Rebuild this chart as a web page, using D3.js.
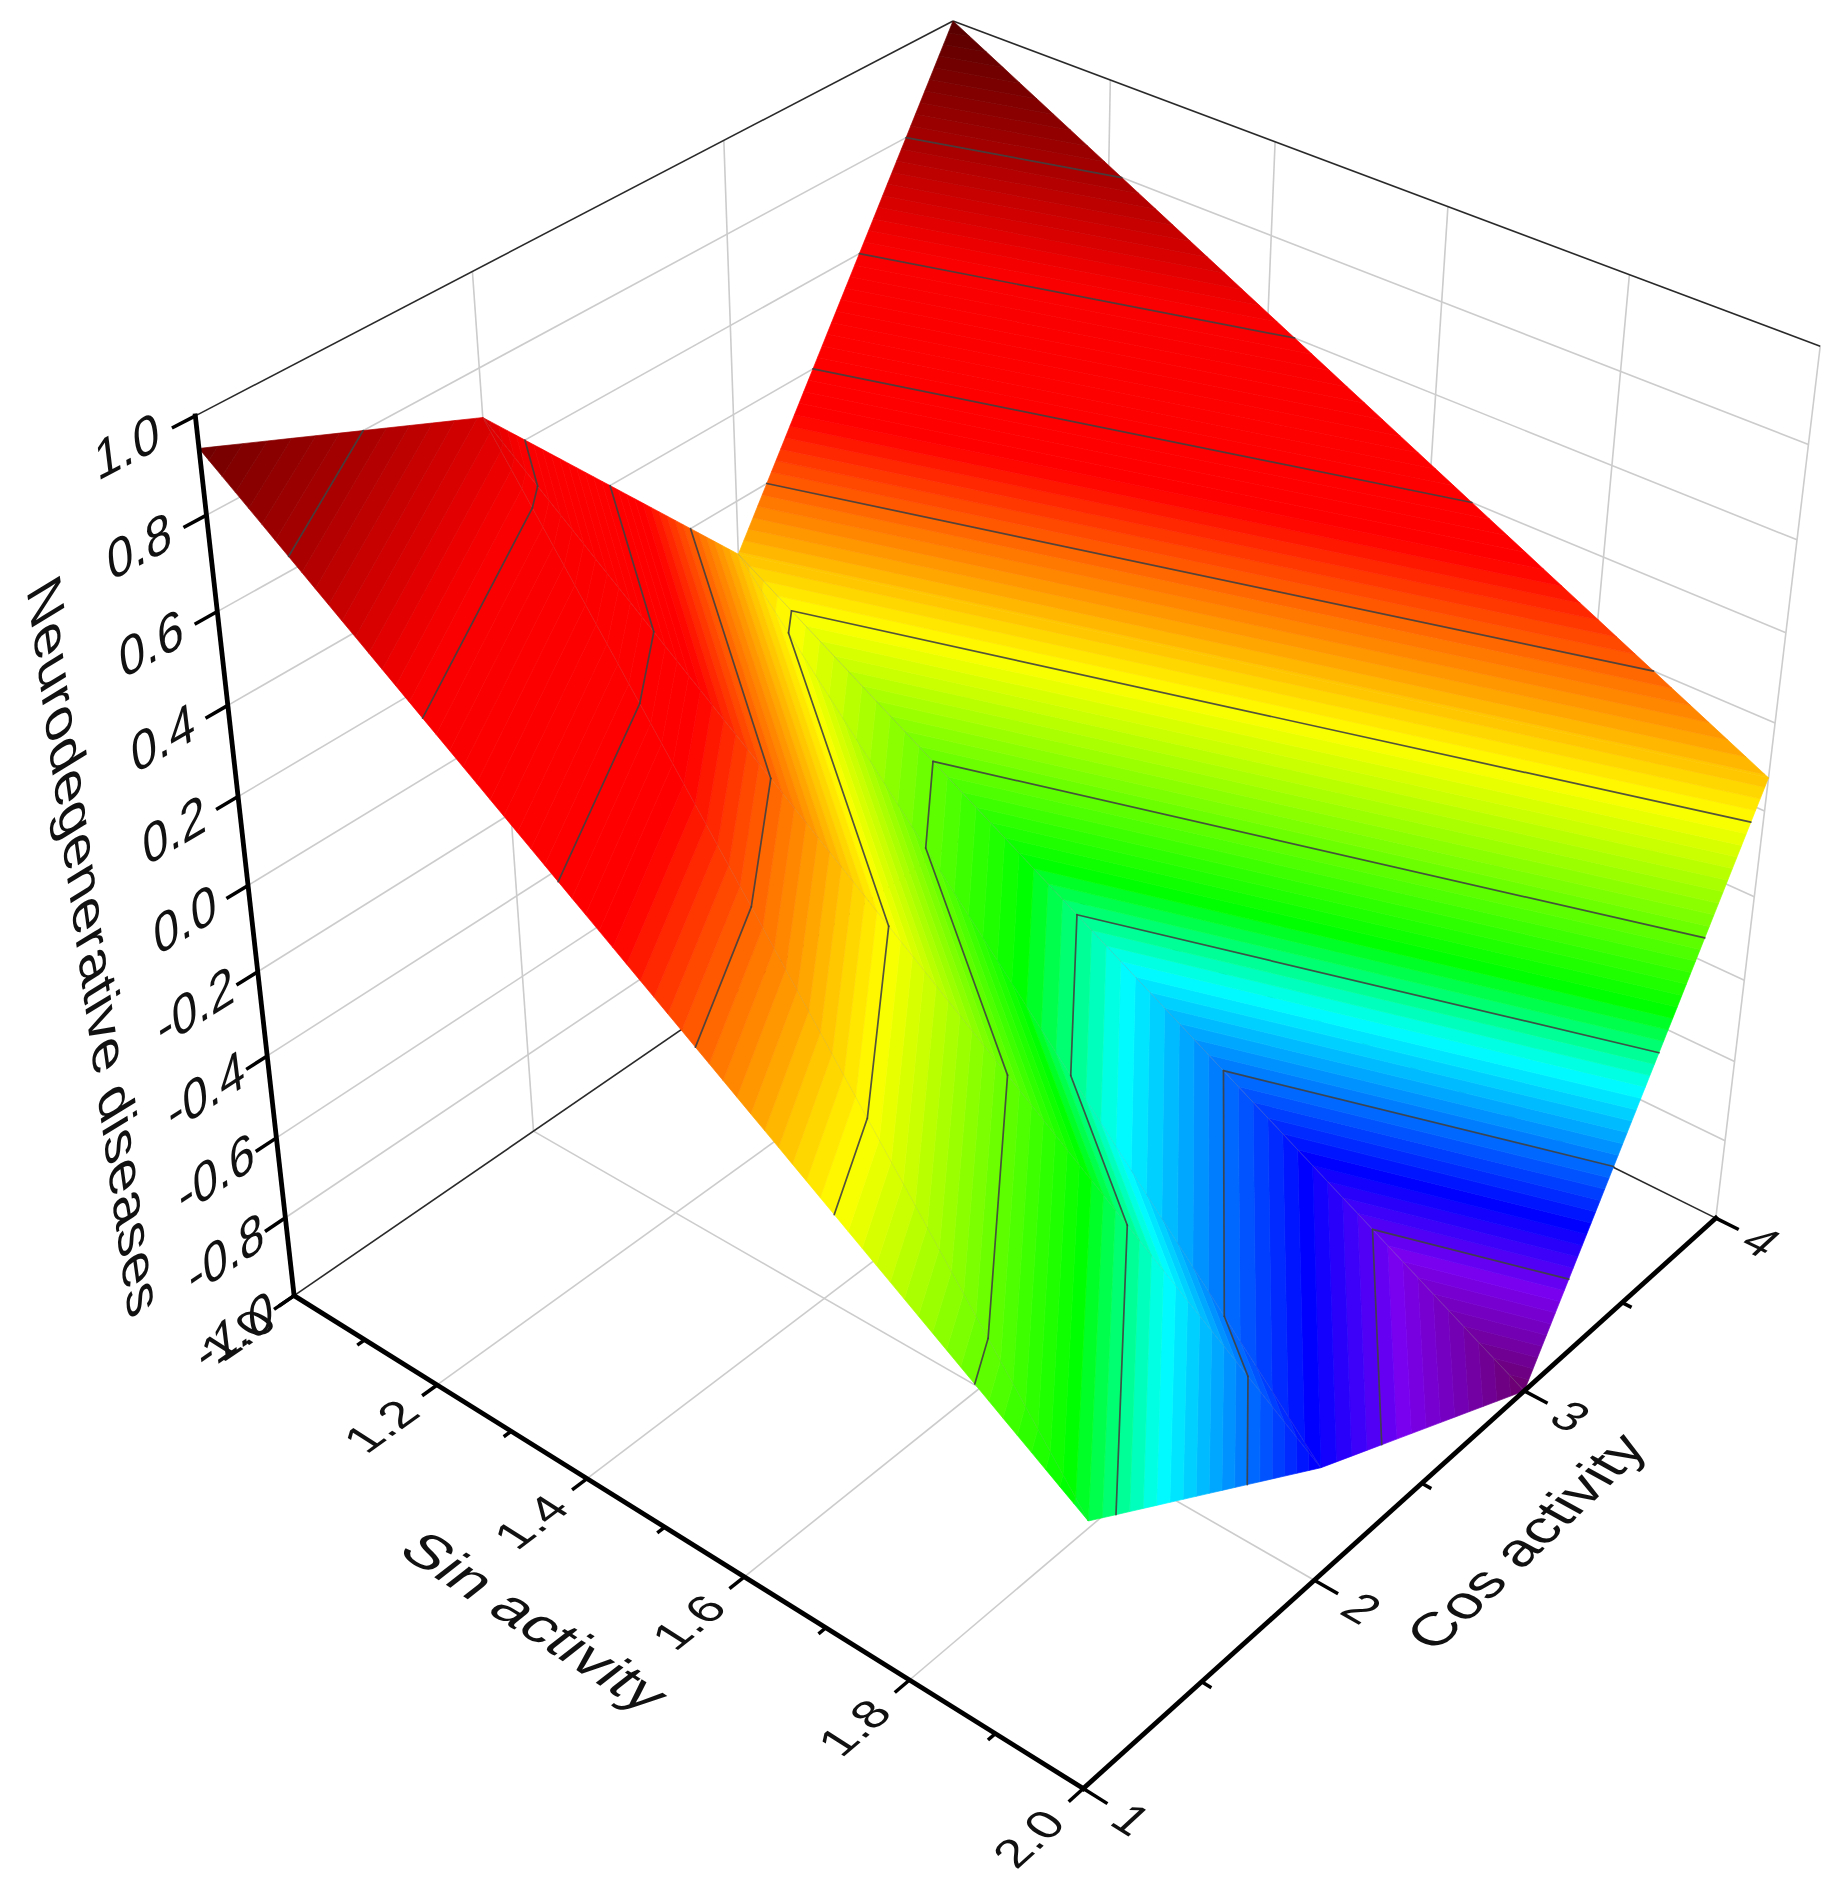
<!DOCTYPE html>
<html><head><meta charset="utf-8">
<script src="https://d3js.org/d3.v7.min.js"></script>
<style>html,body{margin:0;padding:0;background:#fff}svg{display:block;filter:blur(0.6px)}text{font-family:"Liberation Sans",Arial,sans-serif;fill:#111}</style>
</head><body><svg id="chart" width="1836" height="1890"></svg>
<script>
// ---- data ----
const sinValues = [1, 2];
const cosValues = [1, 2, 3, 4];
const zAtSin1 = [0.935, 0.695, 0.076, 1.0];
const zAtSin2 = [-0.36, -0.72, -1.0, 0.076];
const surfaceRows = [zAtSin1, zAtSin2];
const contourLevels = [-0.8, -0.6, -0.4, -0.2, 0, 0.2, 0.4, 0.6, 0.8];
const zTicks = [-1, -0.8, -0.6, -0.4, -0.2, 0, 0.2, 0.4, 0.6, 0.8, 1];
const sinTicks = [1, 1.2, 1.4, 1.6, 1.8, 2];
const sinMinorTicks = [1.1, 1.3, 1.5, 1.7, 1.9];
const cosTicks = [1, 2, 3, 4];
const cosMinorTicks = [1.5, 2.5, 3.5];
const colorDomain = [1, 0.8, 0.62, 0.32, 0, -0.33, -0.465, -0.71, -0.83, -1];
const colorRange = ["#560000", "#a60000", "#fa0000", "#ff0000", "#ffff00", "#00ff00", "#00ffff", "#0000ff", "#7a00f0", "#6c006c"];
const bandCount = 100;
const titles = {z: "Neurodegenerative diseases", sin: "Sin activity", cos: "Cos activity"};

// ---- camera: fitted from where known cube points fall on the page ----
const uScale = d3.scaleLinear([1, 2], [0, 1]);
const vScale = d3.scaleLinear([1, 4], [0, 1]);
const wScale = d3.scaleLinear([-1, 1], [0, 1]);
const cameraAnchors = [
  [1,1,-1,293,1296],[2,1,-1,1083,1788],[2,4,-1,1718,1220],[1,4,-1,952,840],
  [1,1,1,195,413],[1,4,1,955,20.5],[2,4,1,1818,346],
  [2,2,-1,1314,1578.5],[2,3,-1,1525,1391],
  [1.2,1,-1,434,1386],[1.4,1,-1,587,1479],[1.6,1,-1,744,1578],[1.8,1,-1,910,1679],
  [1,1,0.8,204,516],[1,1,0.6,216,612],[1,1,0.4,227,706],[1,1,0.2,237.5,797],
  [1,1,-0.2,259,973],[1,1,-0.4,269,1057],[1,1,-0.6,279,1137],[1,1,-0.8,288,1217],
  [1,2,-1,534,1130],[1,2,1,472.6,271],[1,3,1,726,142]
];
function fitCamera(rows) {
  const n = 11, M = d3.range(n).map(() => new Array(n + 1).fill(0));
  const add = (r, y) => { for (let i = 0; i < n; i++) { for (let j = 0; j < n; j++) M[i][j] += r[i] * r[j]; M[i][n] += r[i] * y; } };
  rows.forEach(([s, c, z, x, y]) => {
    const u = uScale(s), v = vScale(c), w = wScale(z), X = x / 1000, Y = y / 1000;
    add([u, v, w, 1, 0, 0, 0, 0, -X * u, -X * v, -X * w], X);
    add([0, 0, 0, 0, u, v, w, 1, -Y * u, -Y * v, -Y * w], Y);
  });
  for (let i = 0; i < n; i++) {
    let p = i; for (let k = i + 1; k < n; k++) if (Math.abs(M[k][i]) > Math.abs(M[p][i])) p = k;
    [M[i], M[p]] = [M[p], M[i]];
    for (let k = 0; k < n; k++) if (k !== i) { const f = M[k][i] / M[i][i]; for (let j = i; j <= n; j++) M[k][j] -= f * M[i][j]; }
  }
  return M.map((r, i) => r[n] / r[i]);
}
const cam = fitCamera(cameraAnchors);
function project(s, c, z) {
  const u = uScale(s), v = vScale(c), w = wScale(z);
  const d = cam[8] * u + cam[9] * v + cam[10] * w + 1;
  return [1000 * (cam[0] * u + cam[1] * v + cam[2] * w + cam[3]) / d,
          1000 * (cam[4] * u + cam[5] * v + cam[6] * w + cam[7]) / d];
}

const svg = d3.select("#chart");
const line = d3.line();
const gWalls = svg.append("g"), gSurface = svg.append("g"), gContours = svg.append("g"), gAxes = svg.append("g"), gText = svg.append("g");

function seg(g, a, b, stroke, width, cap) {
  g.append("path").attr("d", line([project(...a), project(...b)])).attr("stroke", stroke)
   .attr("stroke-width", width).attr("fill", "none").attr("stroke-linecap", cap || "butt");
}

// walls and floor grid
const gridColor = "#cccccc";
zTicks.slice(1, -1).forEach(z => {
  seg(gWalls, [1, 1, z], [1, 4, z], gridColor, 1.6);
  seg(gWalls, [1, 4, z], [2, 4, z], gridColor, 1.6);
});
[2, 3].forEach(c => {
  seg(gWalls, [1, c, -1], [1, c, 1], gridColor, 1.6);
  seg(gWalls, [1, c, -1], [2, c, -1], gridColor, 1.6);
});
[1.2, 1.4, 1.6, 1.8].forEach(s => {
  seg(gWalls, [s, 4, -1], [s, 4, 1], gridColor, 1.6);
  seg(gWalls, [s, 1, -1], [s, 4, -1], gridColor, 1.6);
});
seg(gWalls, [2, 4, -1], [2, 4, 1], gridColor, 1.6);
seg(gWalls, [1, 4, -1], [1, 4, 1], gridColor, 1.6);
const edgeColor = "#2a2a2a";
seg(gWalls, [1, 1, 1], [1, 4, 1], edgeColor, 1.6);
seg(gWalls, [1, 4, 1], [2, 4, 1], edgeColor, 1.6);
seg(gWalls, [1, 1, -1], [1, 4, -1], edgeColor, 1.6);
seg(gWalls, [1, 4, -1], [2, 4, -1], edgeColor, 1.6);

// surface triangles: the two nearer cells split along (sin low, cos high)-(sin high, cos low),
// the far cell along (sin low, cos low)-(sin high, cos high)
const vert = (i, j) => [sinValues[i], cosValues[j], surfaceRows[i][j]];
const triangles = [];
const seams = [];
d3.range(cosValues.length - 2, -1, -1).forEach(j => {
  if (j === cosValues.length - 2) {
    triangles.push([vert(0, j), vert(0, j + 1), vert(1, j + 1)]);
    triangles.push([vert(0, j), vert(1, j + 1), vert(1, j)]);
  } else {
    triangles.push([vert(0, j), vert(0, j + 1), vert(1, j)]);
    triangles.push([vert(0, j + 1), vert(1, j + 1), vert(1, j)]);
    seams.push([vert(0, j + 1), vert(1, j)]);
    seams.push([vert(0, j + 1), vert(1, j + 1)]);
  }
});
seams.push([vert(0, 2), vert(1, 2)]);
const lerp = (a, b, t) => a.map((q, k) => q + (b[k] - q) * t);
function clip(poly, keep, level) {
  const out = [];
  poly.forEach((p, i) => {
    const q = poly[(i + 1) % poly.length], pIn = keep(p[2]), qIn = keep(q[2]);
    if (pIn) out.push(p);
    if (pIn !== qIn) out.push(lerp(p, q, (level - p[2]) / (q[2] - p[2])));
  });
  return out;
}
const bandColor = d3.scaleLinear().domain(colorDomain).range(colorRange).interpolate(d3.interpolateRgb);
const bandStep = 2 / bandCount;
triangles.forEach(tri => {
  d3.range(bandCount).forEach(b => {
    const lo = -1 + b * bandStep, hi = lo + bandStep;
    let poly = clip(tri, z => z >= lo, lo);
    if (poly.length) poly = clip(poly, z => z <= hi, hi);
    if (poly.length < 3) return;
    const col = bandColor(lo + bandStep / 2);
    gSurface.append("path").attr("d", line(poly.map(p => project(...p))) + "Z")
      .attr("fill", col).attr("stroke", col).attr("stroke-width", 0.7).attr("stroke-linejoin", "round");
  });
});
// faint mesh seams
seams.forEach(pair => {
  gSurface.append("path").attr("d", line(pair.map(p => project(...p))))
    .attr("stroke", "#8a8a8a").attr("stroke-opacity", 0.2).attr("stroke-width", 0.8).attr("fill", "none");
});

// contour lines
triangles.forEach(tri => contourLevels.forEach(level => {
  const pts = [];
  tri.forEach((p, i) => {
    const q = tri[(i + 1) % 3];
    if ((p[2] - level) * (q[2] - level) < 0) pts.push(lerp(p, q, (level - p[2]) / (q[2] - p[2])));
  });
  if (pts.length === 2) gContours.append("path").attr("d", line(pts.map(p => project(...p))))
    .attr("stroke", "#404040").attr("stroke-width", 1.7).attr("stroke-opacity", 0.9).attr("stroke-linecap", "round").attr("fill", "none");
}));

// axes
const axisW = 4.8, tickW = 3.5;
seg(gAxes, [1, 1, -1], [1, 1, 1], "#000", axisW, "square");
seg(gAxes, [1, 1, -1], [2, 1, -1], "#000", axisW, "square");
seg(gAxes, [2, 1, -1], [2, 4, -1], "#000", axisW, "square");
zTicks.forEach(z => seg(gAxes, [1, 1, z], [1, 0.92, z], "#000", tickW));
sinTicks.forEach(s => seg(gAxes, [s, 1, -1], [s, 0.94, -1], "#000", tickW));
sinMinorTicks.forEach(s => seg(gAxes, [s, 1, -1], [s, 0.97, -1], "#000", tickW));
cosTicks.forEach(c => seg(gAxes, [2, c, -1], [2.027, c, -1], "#000", tickW));
cosMinorTicks.forEach(c => seg(gAxes, [2, c, -1], [2.011, c, -1], "#000", tickW));

// text lying in the planes of the box
function unit(a, b) { const dx = b[0] - a[0], dy = b[1] - a[1], l = Math.hypot(dx, dy); return [dx / l, dy / l]; }
function planeText(str, at, size, xTo, yTo, sx, sy, pos) {
  const p = project(...at), ax = unit(p, project(...xTo)), ay = unit(p, project(...yTo));
  const o = pos || p;
  gText.append("text").text(str).attr("font-size", size).attr("text-anchor", "middle").attr("dy", "0.36em")
    .attr("transform", `matrix(${ax[0] * sx},${ax[1] * sx},${ay[0] * sy},${ay[1] * sy},${o[0]},${o[1]})`);
}
const tickFmt = d3.format(".1f");
const hyphen = s => s.replace("\u2212", "-");
zTicks.forEach(z => { const a = [1, 0.77, z + 0.012]; planeText(hyphen(tickFmt(z)), a, 52, [1, 1, z + 0.012], [1, 0.77, z - 0.088], 1, 1.05); });
sinTicks.forEach(s => { const a = [s, 0.775, -1]; planeText(tickFmt(s), a, 50, [s, 1, -1], [s + 0.1, 0.775, -1], 1, 0.92); });
cosTicks.forEach(c => { const a = [2.054, c, -1]; planeText(String(c), a, 48, [2.2, c, -1], [2.054, c - 0.3, -1], 1, 1); });
planeText(titles.sin, [1.5, 0.5, -1], 62, [1.7, 0.5, -1], [1.5, 0.3, -1], 1, 0.9, [536, 1621]);
planeText(titles.cos, [2.2, 2.5, -1], 58, [2.2, 2.8, -1], [2.4, 2.5, -1], 1, 0.95, [1525, 1541]);
planeText(titles.z, [1, 0.4, 0], 58, [1, 0.4, -0.2], [1, 0.1, 0], 1, 0.95, [95, 946]);
</script></body></html>
